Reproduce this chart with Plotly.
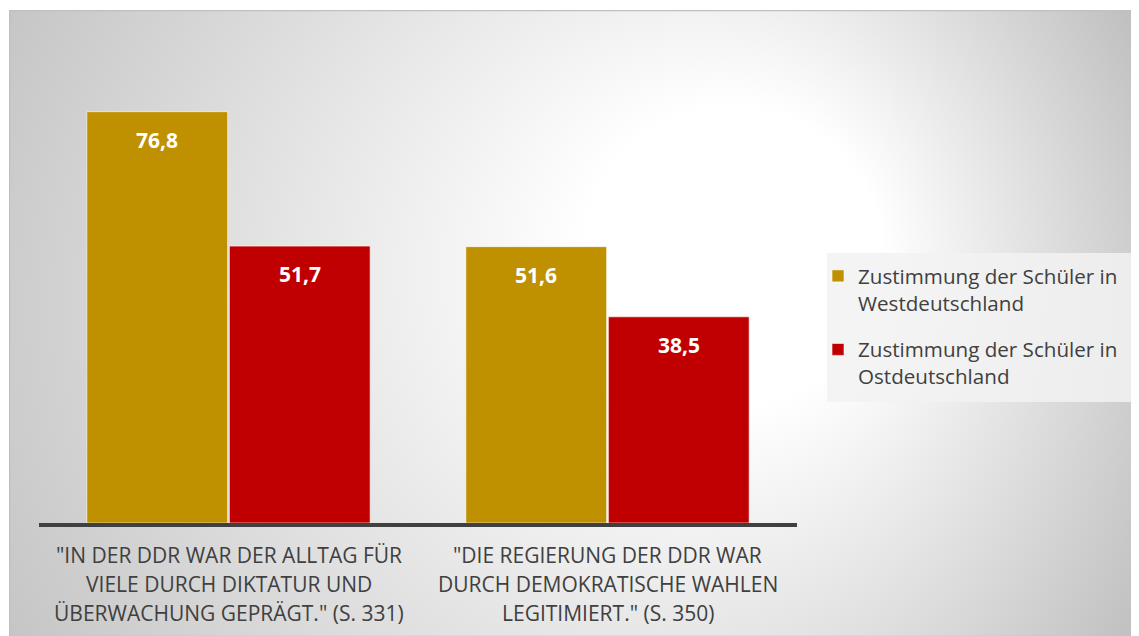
import base64
import plotly.graph_objects as go

# ---------------- data ----------------
categories = [
    '"IN DER DDR WAR DER ALLTAG FÜR VIELE DURCH DIKTATUR UND ÜBERWACHUNG GEPRÄGT." (S. 331)',
    '"DIE REGIERUNG DER DDR WAR DURCH DEMOKRATISCHE WAHLEN LEGITIMIERT." (S. 350)',
]
category_lines = [
    ['"IN DER DDR WAR DER ALLTAG FÜR', 'VIELE DURCH DIKTATUR UND', 'ÜBERWACHUNG GEPRÄGT." (S. 331)'],
    ['"DIE REGIERUNG DER DDR WAR', 'DURCH DEMOKRATISCHE WAHLEN', 'LEGITIMIERT." (S. 350)'],
]
series_names = [
    "Zustimmung der Schüler in<br>Westdeutschland",
    "Zustimmung der Schüler in<br>Ostdeutschland",
]
west = [76.8, 51.6]
east = [51.7, 38.5]

# ---------------- layout geometry ----------------
OFF = 8  # page body margin of the html page
W, H = 1139 - OFF, 636 - OFF
L, R, T, B = 39 - OFF, 797 - OFF, 41 - OFF, 523 - OFF
BARGAP = 0.248
GOLD = "#BF9000"
RED = "#C00000"
TXT = "#404040"
FONT = "Open Sans"


def xp(px):
    return (px - OFF - L) / (R - L)


def yp(py):
    return (B - (py - OFF)) / (B - T)


# background gradient as svg image (screen coords 9..1139, 10..636)
bx0, by0 = 9, 10
bw, bh = 1139 - bx0, 636 - by0
svg = f"""<svg xmlns='http://www.w3.org/2000/svg' width='{bw}' height='{bh}' viewBox='0 0 {bw} {bh}' preserveAspectRatio='none'>
<defs><radialGradient id='g' gradientUnits='userSpaceOnUse' cx='500' cy='330' r='740' fx='780' fy='225'>
<stop offset='0' stop-color='#ffffff'/><stop offset='0.2' stop-color='#ffffff'/><stop offset='1' stop-color='#b8b8b8'/>
</radialGradient></defs>
<rect x='0' y='0' width='{bw}' height='{bh}' fill='url(#g)'/>
<rect x='0.5' y='0.5' width='{bw}' height='{bh}' fill='none' stroke='#c0c0c0' stroke-width='1.5'/>
</svg>"""
svg_uri = "data:image/svg+xml;base64," + base64.b64encode(svg.encode("utf-8")).decode("ascii")

fig = go.Figure()
fig.add_trace(go.Bar(
    x=categories, y=west, name=series_names[0], legend="legend",
    marker=dict(color=GOLD, line=dict(color="rgba(255,255,255,0.6)", width=1)),
    hoverinfo="skip",
))
fig.add_trace(go.Bar(
    x=categories, y=east, name=series_names[1], legend="legend2",
    marker=dict(color=RED, line=dict(color="rgba(255,255,255,0.6)", width=1)),
    hoverinfo="skip",
))

annotations = []
off = (1 - BARGAP) / 4
for i in range(len(categories)):
    for val, sgn in ((west[i], -1), (east[i], 1)):
        annotations.append(dict(
            x=i + sgn * off, y=val, xref="x", yref="y",
            text=f"{val:.1f}".replace(".", ","), showarrow=False,
            yanchor="middle", yshift=-28,
            font=dict(family=FONT, size=21, color="white", weight="bold"),
        ))
    for k, line in enumerate(category_lines[i]):
        annotations.append(dict(
            x=i, y=0, xref="x", yref="paper",
            text=line, showarrow=False, yanchor="middle",
            yshift=-(32 + 29 * k),
            font=dict(family=FONT, size=21, color=TXT),
        ))

legend_common = dict(
    xref="container", yref="container", xanchor="left", yanchor="top",
    bgcolor="rgba(0,0,0,0)", borderwidth=0, valign="top",
    font=dict(family=FONT, size=20.6, color=TXT),
)

fig.update_layout(
    width=W, height=H,
    margin=dict(l=L, r=W - R, t=T, b=H - B, pad=0),
    paper_bgcolor="white", plot_bgcolor="rgba(0,0,0,0)",
    barmode="group", bargap=BARGAP, bargroupgap=0.012,
    showlegend=True,
    legend=dict(x=(818 - OFF) / W, y=1 - (256 - OFF) / H, **legend_common),
    legend2=dict(x=(818 - OFF) / W, y=1 - (329.5 - OFF) / H, **legend_common),
    xaxis=dict(showline=True, linecolor=TXT, linewidth=3.5, showticklabels=False,
               ticks="", showgrid=False, zeroline=False, fixedrange=True),
    yaxis=dict(range=[0, 90], showline=False, showticklabels=False, ticks="",
               showgrid=False, zeroline=False, fixedrange=True),
    annotations=annotations,
    images=[dict(source=svg_uri, xref="paper", yref="paper",
                 x=xp(bx0), y=yp(by0), sizex=xp(1139) - xp(bx0), sizey=yp(by0) - yp(636),
                 xanchor="left", yanchor="top", sizing="stretch", layer="below")],
    shapes=[dict(type="rect", xref="paper", yref="paper",
                 x0=xp(827), x1=xp(1131), y0=yp(402), y1=yp(253),
                 fillcolor="rgba(242,242,242,0.85)", line=dict(width=0), layer="below")],
)

fig.write_html("out.html", config={"displayModeBar": False})
